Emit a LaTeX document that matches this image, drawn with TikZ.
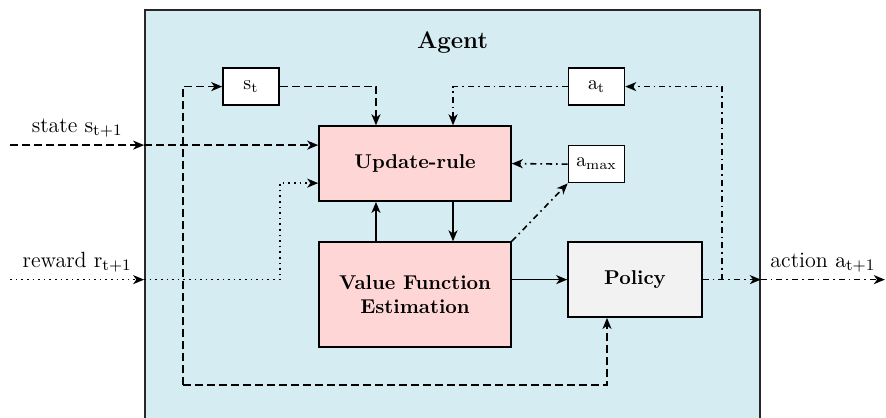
\documentclass[tikz,border=0pt]{standalone}
\usepackage{amsmath}
\usepackage{tikz}
\usetikzlibrary{arrows.meta, positioning, calc}
\definecolor{agentbg}{RGB}{214, 236, 243}
\definecolor{learn}{RGB}{255, 214, 214}
\definecolor{policybg}{RGB}{242, 242, 242}
\definecolor{frame}{RGB}{40, 40, 40}

\begin{document}
\begin{tikzpicture}[
    block/.style={rectangle, draw, thick, minimum height=1.318cm, minimum width=3.374cm, text centered, font=\bfseries, align=center},
    smallblock/.style={rectangle, draw, thick, fill=white, minimum height=0.65cm, minimum width=0.984cm, text centered, align=center},
    arrow/.style={-{Stealth[length=5.5pt, width=4.5pt, inset=1.6pt]}, thick},
    edgelabel/.style={above, font=\fontsize{11}{13}\selectfont},
    stateline/.style={dash pattern=on 4pt off 2pt},
    rewardline/.style={dotted},
    actionline/.style={dash dot}
]
\useasboundingbox (0,0) rectangle (15.57,7.33);

% Agent frame
\node[rectangle, draw=frame, thick, fill=agentbg, minimum width=10.81cm, minimum height=7.29cm] (agent) at (7.952,3.506) {};
\node[font=\large\bfseries] (agent_title) at (7.952,6.59) {Agent};

% Main blocks
\node[block, fill=learn] (update) at (7.293,4.455) {Update-rule};
\node[block, fill=learn, minimum height=1.845cm] (vfe) at (7.293,2.153) {Value Function\\Estimation};
\node[block, fill=policybg, minimum width=2.355cm] (policy) at (11.159,2.416) {Policy};

% Memory blocks
\node[smallblock] (st) at (4.411,5.808) {$\mathrm{s}_\mathrm{t}$};
\node[smallblock] (at) at (10.482,5.808) {$\mathrm{a}_\mathrm{t}$};
\node[smallblock] (amax) at (10.482,4.446) {$\mathrm{a}_\mathrm{max}$};

% Environment ends
\coordinate (state_src) at (0.18,4.78);
\coordinate (reward_src) at (0.18,2.416);
\coordinate (action_dst) at (15.55,2.416);
\coordinate (loop) at (3.216,0.562);

% State input
\draw[arrow, stateline] (state_src) -- node[edgelabel] {state $\mathrm{s}_\mathrm{t+1}$} (agent.west |- state_src);
\draw[arrow, stateline] (agent.west |- state_src) -- (update.west |- state_src);

% Reward input
\draw[arrow, rewardline] (reward_src) -- node[edgelabel] {reward $\mathrm{r}_\mathrm{t+1}$} (agent.west |- reward_src);
\draw[arrow, rewardline] (agent.west |- reward_src) -- (4.92,2.416) |- (update.west |- 0,4.112);

% State memory loop
\draw[arrow, stateline] (loop) |- (st.west);
\draw[arrow, stateline] (loop) -| (policy.south -| 10.667,0);
\draw[arrow, stateline] (st.east) -| (update.north -| 6.607,0);

% Learning arrows
\draw[arrow] (vfe.north -| 6.607,0) -- (update.south -| 6.607,0);
\draw[arrow] (update.south -| 7.961,0) -- (vfe.north -| 7.961,0);
\draw[arrow] (vfe.east |- policy) -- (policy.west);

% Action arrows
\draw[arrow, actionline] (vfe.north east) -- (amax.south west);
\draw[arrow, actionline] (amax.west) -- (update.east);
\draw[arrow, actionline] (at.west) -| (update.north -| 7.961,0);
\draw[arrow, actionline] (policy.east) -- (agent.east |- policy);
\draw[arrow, actionline] (agent.east |- policy) -- node[edgelabel] {action $\mathrm{a}_\mathrm{t+1}$} (action_dst);
\draw[arrow, actionline] (policy.east -| 12.688,0) |- (at.east);

\end{tikzpicture}
\end{document}
